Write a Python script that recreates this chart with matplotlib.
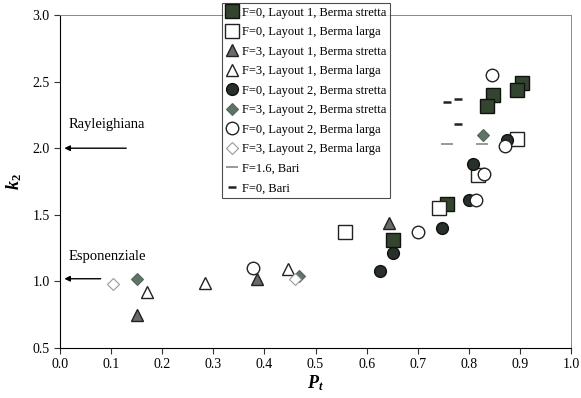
import matplotlib.pyplot as plt

plt.rcParams['font.family'] = ['Liberation Serif', 'DejaVu Serif']
plt.rcParams['mathtext.fontset'] = 'custom'
plt.rcParams['mathtext.it'] = 'Liberation Serif:bold:italic'
plt.rcParams['mathtext.rm'] = 'Liberation Serif:bold'

# F=0, Layout 1, Berma stretta
l1_f0_s_x = [0.904, 0.894, 0.847, 0.836, 0.757, 0.652]
l1_f0_s_y = [2.49, 2.44, 2.40, 2.32, 1.58, 1.31]
# F=0, Layout 1, Berma larga
l1_f0_l_x = [0.558, 0.742, 0.818, 0.894]
l1_f0_l_y = [1.37, 1.55, 1.80, 2.07]
# F=3, Layout 1, Berma stretta
l1_f3_s_x = [0.151, 0.385, 0.644]
l1_f3_s_y = [0.75, 1.02, 1.44]
# F=3, Layout 1, Berma larga
l1_f3_l_x = [0.170, 0.284, 0.447]
l1_f3_l_y = [0.92, 0.99, 1.09]
# F=0, Layout 2, Berma stretta
l2_f0_s_x = [0.626, 0.652, 0.747, 0.800, 0.808, 0.874]
l2_f0_s_y = [1.08, 1.21, 1.40, 1.61, 1.88, 2.06]
# F=3, Layout 2, Berma stretta
l2_f3_s_x = [0.151, 0.467, 0.828]
l2_f3_s_y = [1.02, 1.04, 2.10]
# F=0, Layout 2, Berma larga
l2_f0_l_x = [0.378, 0.700, 0.815, 0.830, 0.871, 0.845]
l2_f0_l_y = [1.10, 1.37, 1.61, 1.81, 2.02, 2.55]
# F=3, Layout 2, Berma larga
l2_f3_l_x = [0.104, 0.460]
l2_f3_l_y = [0.98, 1.02]
# F=1.6, Bari
bari16_x = [0.757, 0.826]
bari16_y = [2.03, 2.03]
# F=0, Bari
bari0_x = [0.757, 0.779, 0.779]
bari0_y = [2.35, 2.37, 2.18]

fig = plt.figure(figsize=(5.81, 3.98), dpi=100)
ax = fig.add_axes([0.1033, 0.1256, 0.8795, 0.8367])

ax.plot(l1_f0_s_x, l1_f0_s_y, 's', ms=9.5, mfc='#34452f', mec='#111111', mew=1.0,
        label='F=0, Layout 1, Berma stretta')
ax.plot(l1_f0_l_x, l1_f0_l_y, 's', ms=9.5, mfc='white', mec='#222222', mew=1.0,
        label='F=0, Layout 1, Berma larga')
ax.plot(l1_f3_s_x, l1_f3_s_y, '^', ms=9, mfc='#6a6a6a', mec='#222222', mew=1.0,
        label='F=3, Layout 1, Berma stretta')
ax.plot(l1_f3_l_x, l1_f3_l_y, '^', ms=9, mfc='white', mec='#222222', mew=1.0,
        label='F=3, Layout 1, Berma larga')
ax.plot(l2_f0_s_x, l2_f0_s_y, 'o', ms=8.5, mfc='#28302a', mec='#111111', mew=1.0,
        label='F=0, Layout 2, Berma stretta')
ax.plot(l2_f3_s_x, l2_f3_s_y, 'D', ms=6, mfc='#5f7466', mec='#55665a', mew=0.8,
        label='F=3, Layout 2, Berma stretta')
ax.plot(l2_f0_l_x, l2_f0_l_y, 'o', ms=9, mfc='white', mec='#222222', mew=1.0,
        label='F=0, Layout 2, Berma larga')
ax.plot(l2_f3_l_x, l2_f3_l_y, 'D', ms=6, mfc='white', mec='#999999', mew=0.8,
        label='F=3, Layout 2, Berma larga')
ax.plot(bari16_x, bari16_y, '_', ms=8, mec='#888888', mew=1.2,
        label='F=1.6, Bari')
ax.plot(bari0_x, bari0_y, '_', ms=6, mec='#222222', mew=1.8,
        label='F=0, Bari')

ax.set_xlim(0.0, 1.0)
ax.set_ylim(0.5, 3.0)
ax.set_xticks([i / 10 for i in range(11)])
ax.set_yticks([0.5, 1.0, 1.5, 2.0, 2.5, 3.0])
ax.set_xticklabels(['%.1f' % (i / 10) for i in range(11)])
ax.set_yticklabels(['0.5', '1.0', '1.5', '2.0', '2.5', '3.0'])
ax.tick_params(direction='out', length=4, labelsize=10, color='#333333')
for s in ['top', 'right']:
    ax.spines[s].set_color('#888888')
    ax.spines[s].set_linewidth(0.7)

ax.set_xlabel('$P_t$', fontsize=13, labelpad=1)
ax.set_ylabel('$k_2$', fontsize=13, labelpad=6)

ax.annotate('', xy=(0.003, 2.0), xytext=(0.135, 2.0),
            arrowprops=dict(arrowstyle='-|>', color='black', lw=1.0, mutation_scale=8))
ax.text(0.016, 2.13, 'Rayleighiana', fontsize=10.5, ha='left', va='bottom')
ax.annotate('', xy=(0.003, 1.02), xytext=(0.085, 1.02),
            arrowprops=dict(arrowstyle='-|>', color='black', lw=1.0, mutation_scale=8))
ax.text(0.016, 1.14, 'Esponenziale', fontsize=10.5, ha='left', va='bottom')

leg = ax.legend(loc='upper left', bbox_to_anchor=(222 / 581, 1 - 3 / 398),
                bbox_transform=fig.transFigure, fontsize=9, frameon=True,
                fancybox=False, edgecolor='#222222', borderpad=0.3,
                labelspacing=0.6, handlelength=1.0, handletextpad=0.3,
                borderaxespad=0)
leg.get_frame().set_linewidth(0.8)

fig.savefig('out.png', dpi=100)
